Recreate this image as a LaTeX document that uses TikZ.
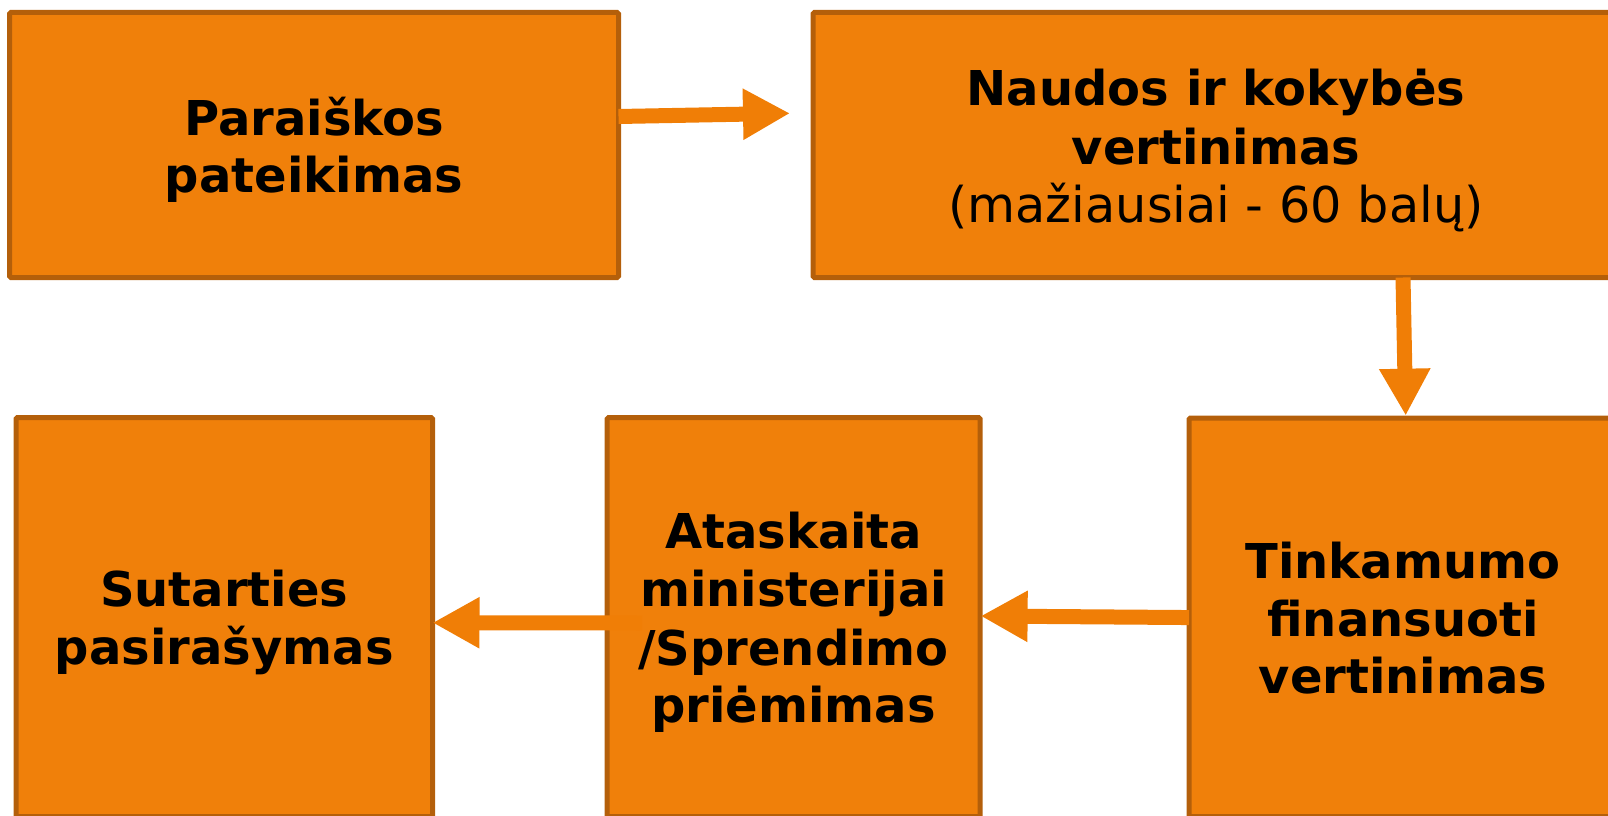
\documentclass[tikz,border=0pt]{standalone}
\usepackage{fontspec}
\setmainfont{DejaVu Sans}
\usetikzlibrary{arrows.meta}
\definecolor{boxfill}{RGB}{240,128,10}
\definecolor{boxline}{RGB}{180,95,10}
\definecolor{arrowcol}{RGB}{240,126,6}
\newcommand\lnstrut{\rule[-9.5pt]{0pt}{57pt}}
\tikzset{
  stagebox/.style={draw=boxline, fill=boxfill, line width=5pt, rounded corners=1.5pt,
    inner sep=0pt, outer sep=0pt, align=center, text=black,
    font=\fontsize{48}{57.5}\selectfont\bfseries},
  flowarrow/.style={draw=arrowcol, line width=15pt,
    -{Triangle[width=48pt,length=47pt]}}
}
\begin{document}
\begin{tikzpicture}[x=1pt,y=-1pt]
\useasboundingbox (0,0) rectangle (1608,816);
\clip (0,0) rectangle (1608,816);
\node[stagebox, minimum width=609pt, minimum height=265pt] (b1) at (314,145)
  {\lnstrut Paraiškos\\\lnstrut pateikimas};
\node[stagebox, minimum width=806pt, minimum height=265pt] (b2) at (1216,145)
  {\lnstrut Naudos ir kokybės\\\lnstrut vertinimas\\\lnstrut{\mdseries\fontsize{49.3}{57.5}\selectfont(mažiausiai - 60 balų)}};
\node[stagebox, minimum width=428pt, minimum height=398.5pt] (b3) at (1403,617.25)
  {\lnstrut Tinkamumo\\\lnstrut finansuoti\\\lnstrut vertinimas};
\node[stagebox, minimum width=373pt, minimum height=399pt] (b5) at (793.6,617)
  {\lnstrut Ataskaita\\\lnstrut ministerijai\\\lnstrut /Sprendimo\\\lnstrut priėmimas};
\node[stagebox, minimum width=416.5pt, minimum height=399pt] (b4) at (224.25,617)
  {\lnstrut Sutarties\\\lnstrut pasirašymas};
% free end of the first arrow
\coordinate (t1) at (790,113.3);
\draw[flowarrow] ([yshift=28.5pt]b1.east) -- (t1);
\draw[flowarrow] ([xshift=187pt]b2.south) -- ([xshift=2.7pt,yshift=2.3pt]b3.north);
\draw[flowarrow] ([yshift=-0.3pt]b3.west) -- ([xshift=0.5pt,yshift=1pt]b5.east);
\draw[flowarrow] ([xshift=35pt,yshift=-6pt]b5.west) -- ([yshift=-5.7pt]b4.east);
\end{tikzpicture}
\end{document}
